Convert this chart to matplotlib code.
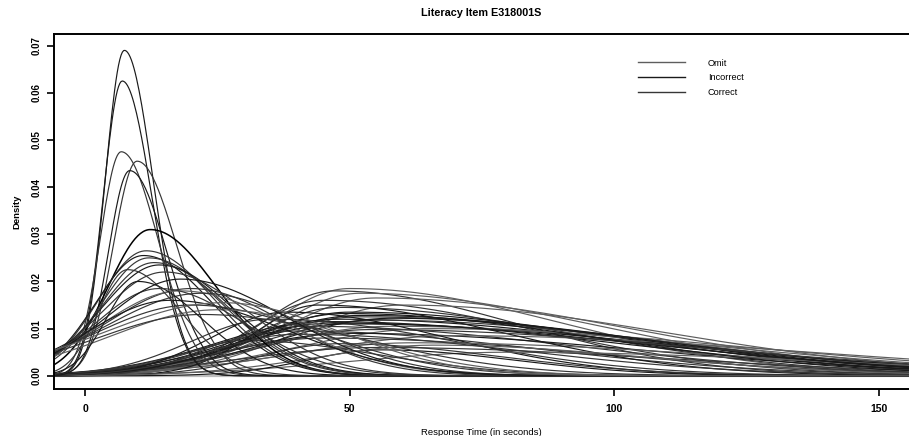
import matplotlib
matplotlib.use("Agg")
import matplotlib.pyplot as plt
import numpy as np
from matplotlib.lines import Line2D

plt.rcParams['font.family'] = ['Liberation Sans', 'DejaVu Sans']

# each density curve: mode (s), peak density,
# spread left / right of the mode (s), and response group
early_mode = [7.4, 7.0, 6.8, 9.8, 8.4, 12.3, 11.5, 11.0, 12.0, 13.0, 14.0,
              15.0, 20.0, 18.0, 22.0, 16.0, 20.0, 25.0, 22.0, 10.0, 8.0,
              14.0, 18.0, 26.0]
early_peak = [0.069, 0.0625, 0.0475, 0.0455, 0.0435, 0.031, 0.0265, 0.0255,
              0.025, 0.024, 0.0235, 0.022, 0.0185, 0.018, 0.0175, 0.016,
              0.015, 0.014, 0.013, 0.020, 0.0225, 0.0185, 0.0205, 0.0155]
early_left = [3.6, 3.6, 4.0, 4.5, 4.0, 8.0, 9.0, 9.0, 9.0, 10.0, 11.0,
              12.0, 16.0, 15.0, 18.0, 15.0, 18.0, 20.0, 20.0, 6.0, 5.5,
              12.0, 14.0, 22.0]
early_right = [5.4, 5.6, 7.0, 7.5, 7.0, 12.5, 13.0, 13.0, 14.0, 14.0, 14.0,
               16.0, 18.0, 20.0, 20.0, 22.0, 24.0, 25.0, 30.0, 12.0, 10.0,
               16.0, 20.0, 22.0]
early_group = ['Incorrect', 'Incorrect', 'Correct', 'Correct', 'Incorrect',
               'Incorrect', 'Correct', 'Incorrect', 'Correct', 'Correct',
               'Incorrect', 'Correct', 'Correct', 'Omit', 'Correct',
               'Incorrect', 'Correct', 'Omit', 'Correct', 'Incorrect',
               'Correct', 'Correct', 'Incorrect', 'Omit']

late_mode = [50, 47, 52, 55, 45, 60, 48, 50, 52, 48, 55, 45, 50, 58, 42, 65,
             40, 50, 70, 45, 35, 38, 62, 55, 80, 48, 56, 30, 44, 66, 52, 47,
             58, 54, 49, 40]
late_peak = [0.0185, 0.018, 0.0175, 0.0165, 0.016, 0.015, 0.0145, 0.0135,
             0.0125, 0.012, 0.0118, 0.0115, 0.011, 0.0105, 0.0105, 0.010,
             0.0095, 0.009, 0.0085, 0.008, 0.012, 0.0135, 0.007, 0.006,
             0.005, 0.0068, 0.0055, 0.0075, 0.015, 0.0065, 0.0128, 0.0112,
             0.0122, 0.0098, 0.0132, 0.0088]
late_left = [15, 14, 16, 18, 14, 20, 16, 18, 20, 20, 22, 20, 22, 24, 18, 25,
             18, 22, 28, 20, 15, 14, 25, 25, 30, 15, 14, 10, 12, 22, 20, 19,
             22, 21, 18, 16]
late_right = [40, 35, 45, 48, 40, 50, 45, 50, 55, 55, 55, 55, 60, 60, 50, 60,
              45, 55, 65, 50, 35, 30, 60, 55, 60, 30, 25, 25, 35, 40, 52, 58,
              50, 62, 48, 42]
late_group = ['Omit', 'Correct', 'Omit', 'Omit', 'Correct', 'Omit',
              'Correct', 'Incorrect', 'Correct', 'Incorrect', 'Correct',
              'Incorrect', 'Incorrect', 'Omit', 'Correct', 'Omit',
              'Correct', 'Incorrect', 'Omit', 'Correct', 'Correct',
              'Incorrect', 'Omit', 'Correct', 'Omit', 'Correct', 'Incorrect',
              'Correct', 'Incorrect', 'Omit', 'Incorrect', 'Incorrect',
              'Incorrect', 'Correct', 'Incorrect', 'Correct']

group_names = ['Omit', 'Incorrect', 'Correct']
group_colors = {'Omit': '#5e5e5e', 'Incorrect': '#1a1a1a', 'Correct': '#363636'}

x_ticks = [0, 50, 100, 150]
y_ticks = [0.00, 0.01, 0.02, 0.03, 0.04, 0.05, 0.06, 0.07]


def density_curve(x, mode, peak, left, right):
    spread = np.where(x < mode, left, right)
    return peak * np.exp(-0.5 * ((x - mode) / spread) ** 2)


fig = plt.figure(figsize=(9.09, 4.36), dpi=100)
ax = fig.add_axes([54 / 909, 1 - 389 / 436, 1 - 54 / 909, (389 - 34.3) / 436])

grid = np.linspace(-10, 160, 700)
ax.axhline(0, color='#bdbdbd', lw=1.6, zorder=1)

for m, p, l, r, g in zip(late_mode, late_peak, late_left, late_right, late_group):
    ax.plot(grid, density_curve(grid, m, p, l, r), color=group_colors[g], lw=0.85)
for m, p, l, r, g in zip(early_mode, early_peak, early_left, early_right, early_group):
    c = '#000000' if p == 0.031 else group_colors[g]
    ax.plot(grid, density_curve(grid, m, p, l, r), color=c,
            lw=1.1 if p == 0.031 else 0.85)

ax.set_xlim(-5.9, 155.7)
ax.set_ylim(-0.0028, 0.0724)
ax.spines['right'].set_visible(False)
for s in ['left', 'top', 'bottom']:
    ax.spines[s].set_linewidth(1.4)

ax.set_xticks(x_ticks)
ax.set_xticklabels([str(t) for t in x_ticks], fontsize=7.5, fontweight='bold')
ax.set_yticks(y_ticks)
ax.set_yticklabels(['%.2f' % t for t in y_ticks], fontsize=7,
                   fontweight='bold', rotation=90, va='center')
ax.tick_params(axis='both', length=5, width=1.2, direction='out')
ax.tick_params(axis='x', pad=6)
ax.tick_params(axis='y', pad=4)

ax.set_xlabel('Response Time (in seconds)', fontsize=6.8, labelpad=10)
ax.set_ylabel('Density', fontsize=6.8, fontweight='bold', labelpad=7)
fig.text((54 + 909) / 2 / 909, 1 - 13 / 436, 'Literacy Item E318001S',
         ha='center', va='center', fontsize=7.8, fontweight='bold')

handles = [Line2D([], [], color=group_colors[g], lw=1.0) for g in group_names]
ax.legend(handles, group_names, loc='upper left',
          bbox_to_anchor=(638 / 909, 1 - 58.5 / 436),
          bbox_transform=fig.transFigure, frameon=False, fontsize=6.6,
          handlelength=5.1, handletextpad=2.5, labelspacing=0.65,
          borderpad=0, borderaxespad=0)

fig.savefig('out.png', dpi=100)
